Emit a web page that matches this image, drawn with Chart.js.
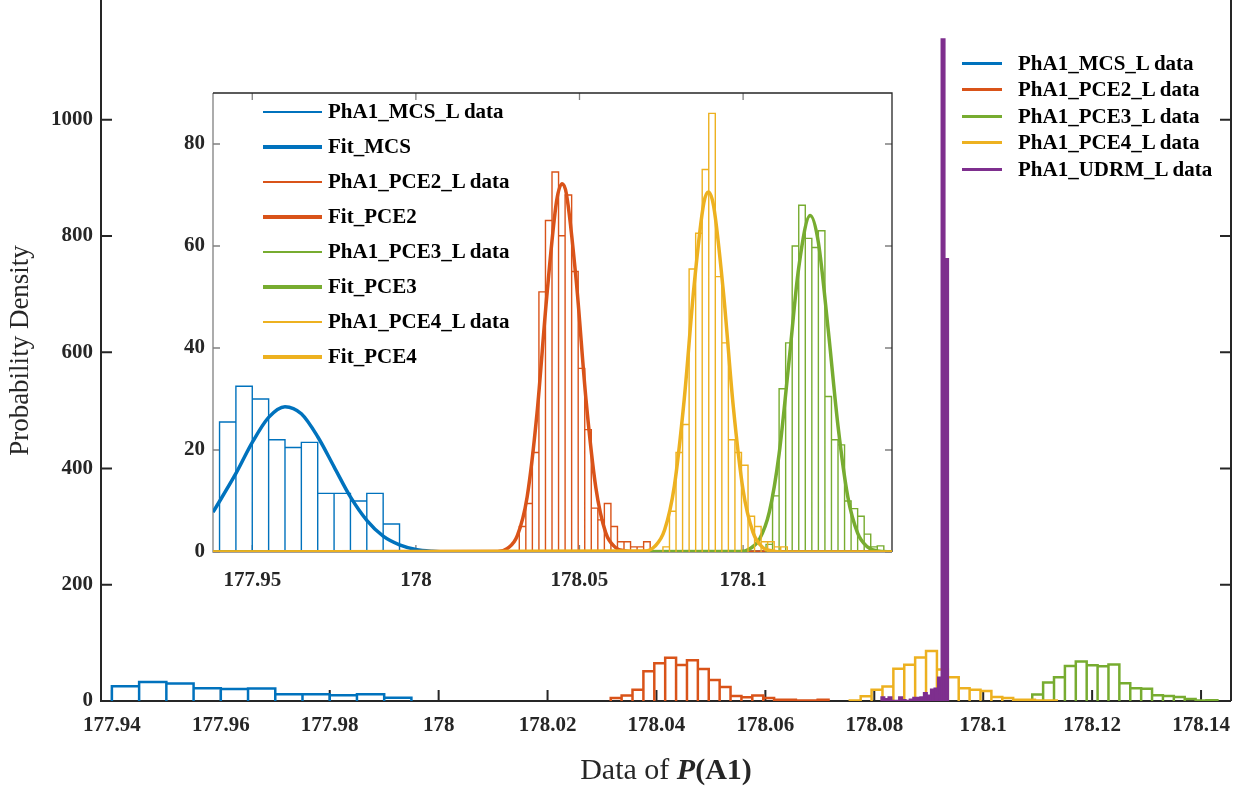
<!DOCTYPE html>
<html lang="en">
<head>
  <meta charset="UTF-8">
  <title>Probability Density of P(A1)</title>
  <script src="https://cdn.jsdelivr.net/npm/chart.js"></script>
  <style>
    body {
      margin: 0;
      background: #fff;
    }

    #wrap {
      position: relative;
      width: 1255px;
      height: 787px;
      background: #fff;
      font-family: 'Liberation Serif', serif;
    }

    #main {
      position: absolute;
      left: 0;
      top: 0;
    }

    #inset {
      position: absolute;
      left: 140px;
      top: 80px;
    }

    .row {
      position: absolute;
      display: flex;
      align-items: center;
      height: 26px;
      font-weight: bold;
      font-size: 21px;
      color: #000;
      white-space: nowrap;
    }

    .row span {
      display: inline-block;
    }

    #xtitle {
      position: absolute;
      left: 366px;
      width: 600px;
      top: 752px;
      text-align: center;
      font-size: 30px;
      color: #262626;
    }
  </style>
</head>

<body>
  <div id="wrap">
    <canvas id="main" width="1255" height="787"></canvas>
    <canvas id="inset" width="770" height="530"></canvas>
    <div id="xtitle">Data of <b><i>P</i>(A1)</b></div>
  </div>
  <script>
    // ticks
    const mainXTicks = [177.94, 177.96, 177.98, 178, 178.02, 178.04, 178.06, 178.08, 178.1, 178.12, 178.14];
    const mainYTicks = [0, 200, 400, 600, 800, 1000];
    const insetXTicks = [177.95, 178, 178.05, 178.1];
    const insetYTicks = [0, 20, 40, 60, 80];

    // histograms: first bin edge, bin width, bar heights (pdf)
    const mcsEdge = 177.94, mcsBin = 0.005;
    const mcsHist = [25.5, 32.5, 30, 22, 20.5, 21.5, 11.5, 11.5, 10, 11.5, 5.5];
    const pce2Edge = 178.0316, pce2Bin = 0.002;
    const pce2Hist = [5, 9.5, 19.5, 51, 65, 74.5, 62, 70, 55, 36, 24, 8.6, 6.3, 9.5, 5, 2, 2, 1, 1, 2];
    const pce3Edge = 178.107, pce3Bin = 0.002;
    const pce3Hist = [1.5, 11, 32, 41, 60, 68, 61.5, 59.7, 63, 30.5, 22, 21, 10, 8.5, 7, 3.5, 1, 1.2];
    const pce4Edge = 178.0755, pce4Bin = 0.002;
    const pce4Hist = [1, 8, 19.5, 25, 55.5, 62.5, 75, 86, 54, 41, 22, 19.5, 17, 7, 5, 2, 2, 1, 1];
    const udrmEdge = 178.08125, udrmBin = 0.00065;
    const udrmHist = [7, 4, 7, 1, 1, 7, 2, 1, 3, 6, 6, 7, 14, 10, 20, 22, 41, 1139, 761];

    // fitted curves (inset)
    const fitMcsX = [177.938, 177.945, 177.95, 177.955, 177.96, 177.965, 177.97, 177.975, 177.98, 177.985, 177.99, 177.995, 178.0, 178.005, 178.01, 178.1455];
    const fitMcsY = [7.8, 15.4, 21.5, 26.4, 28.5, 27.1, 22.6, 16.7, 10.8, 6.2, 3.1, 1.4, 0.5, 0.15, 0.04, 0];
    const fitPce2X = [177.938, 178.025, 178.028, 178.031, 178.034, 178.037, 178.040, 178.043, 178.0447, 178.046, 178.049, 178.052, 178.055, 178.058, 178.061, 178.064, 178.067, 178.1455];
    const fitPce2Y = [0, 0.1, 0.7, 3.2, 10.8, 27.1, 50.1, 68.8, 72.2, 70.2, 53.2, 29.8, 12.6, 3.8, 0.9, 0.2, 0, 0];
    const fitPce3X = [177.938, 178.099, 178.102, 178.105, 178.108, 178.111, 178.114, 178.117, 178.1205, 178.123, 178.126, 178.129, 178.132, 178.135, 178.138, 178.141, 178.1455];
    const fitPce3Y = [0, 0.1, 0.6, 2.5, 7.8, 19.2, 37.2, 55.8, 66, 60.7, 43.6, 24.7, 10.8, 3.7, 1.0, 0.2, 0];
    const fitPce4X = [177.938, 178.070, 178.073, 178.076, 178.079, 178.082, 178.085, 178.088, 178.0894, 178.091, 178.094, 178.097, 178.100, 178.103, 178.106, 178.109, 178.112, 178.1455];
    const fitPce4Y = [0, 0.2, 1.1, 4.3, 13, 29.9, 52.1, 68.5, 70.6, 67.8, 50.8, 28.5, 12.1, 3.9, 0.9, 0.2, 0, 0];

    const mainNames = ['PhA1_MCS_L data', 'PhA1_PCE2_L data', 'PhA1_PCE3_L data', 'PhA1_PCE4_L data', 'PhA1_UDRM_L data'];
    const insetNames = ['PhA1_MCS_L data', 'Fit_MCS', 'PhA1_PCE2_L data', 'Fit_PCE2', 'PhA1_PCE3_L data', 'Fit_PCE3', 'PhA1_PCE4_L data', 'Fit_PCE4'];

    const blue = '#0072BD', red = '#D95319', yellow = '#EDB120', green = '#77AC30', purple = '#7E2F8E';
    const tickFont = { family: 'Liberation Serif', size: 21, weight: 'bold' };

    // bar outline of a histogram, every bin closed down to zero
    function outline(edge, bin, heights) {
      const pts = [{ x: edge, y: 0 }];
      heights.forEach((h, i) => {
        const l = edge + i * bin, r = l + bin;
        pts.push({ x: l, y: h }, { x: r, y: h }, { x: r, y: 0 });
      });
      return pts;
    }

    function curve(xs, ys) {
      return xs.map((x, i) => ({ x: x, y: ys[i] }));
    }

    // axes box with inward ticks (matlab style)
    const boxPlugin = {
      id: 'box',
      beforeDatasetsDraw(chart, args, o) {
        const { ctx, chartArea: a, scales: { x, y } } = chart;
        ctx.save();
        if (o.fill) {
          ctx.fillStyle = o.fill;
          ctx.fillRect(a.left, a.top, a.width, a.height);
        }
        ctx.lineWidth = o.width;
        ctx.strokeStyle = o.tickColor;
        ctx.beginPath();
        x.ticks.forEach(t => {
          const p = x.getPixelForValue(t.value);
          ctx.moveTo(p, a.bottom);
          ctx.lineTo(p, a.bottom - o.len);
          if (o.top) {
            ctx.moveTo(p, a.top);
            ctx.lineTo(p, a.top + o.len);
          }
        });
        y.ticks.forEach(t => {
          const p = y.getPixelForValue(t.value);
          ctx.moveTo(a.left, p);
          ctx.lineTo(a.left + o.len, p);
          ctx.moveTo(a.right, p);
          ctx.lineTo(a.right - o.len, p);
        });
        ctx.stroke();
        ctx.strokeStyle = o.axisColor;
        ctx.beginPath();
        ctx.moveTo(a.left, a.top);
        ctx.lineTo(a.left, a.bottom);
        ctx.lineTo(a.right, a.bottom);
        ctx.stroke();
        ctx.strokeStyle = o.boxColor;
        ctx.beginPath();
        ctx.moveTo(a.right, a.bottom);
        ctx.lineTo(a.right, a.top);
        if (o.top) ctx.lineTo(a.left, a.top);
        ctx.stroke();
        ctx.restore();
      }
    };

    function axes(xmin, xmax, ymin, ymax, xt, yt, xh, yw, xpad, ypad) {
      return {
        x: {
          type: 'linear', min: xmin, max: xmax,
          afterBuildTicks: s => { s.ticks = xt.map(v => ({ value: v })); },
          afterFit: s => { s.height = xh; },
          grid: { display: false, drawTicks: false },
          border: { display: false },
          ticks: {
            padding: xpad, maxRotation: 0, autoSkip: false, font: tickFont, color: '#262626',
            callback: v => String(+v.toFixed(2))
          }
        },
        y: {
          min: ymin, max: ymax,
          afterBuildTicks: s => { s.ticks = yt.map(v => ({ value: v })); },
          afterFit: s => { s.width = yw; s.paddingTop = 0; },
          grid: { display: false, drawTicks: false },
          border: { display: false },
          ticks: { padding: ypad, font: tickFont, color: '#262626', callback: v => String(v) }
        }
      };
    }

    // main plot
    const mainSets = [
      { data: outline(mcsEdge, mcsBin, mcsHist), borderColor: blue },
      { data: outline(pce2Edge, pce2Bin, pce2Hist), borderColor: red },
      { data: outline(pce3Edge, pce3Bin, pce3Hist), borderColor: green },
      { data: outline(pce4Edge, pce4Bin, pce4Hist), borderColor: yellow },
      { data: outline(udrmEdge, udrmBin, udrmHist), borderColor: purple, backgroundColor: purple, fill: 'origin', borderWidth: 1.5 }
    ].map((d, i, arr) => ({
      label: mainNames[i], borderWidth: 2.5, pointRadius: 0, tension: 0, fill: false, order: arr.length - i, ...d
    }));

    const mainScales = axes(177.938, 178.1455, 0, 1206, mainXTicks, mainYTicks, 86, 101, 12, 8);
    mainScales.y.title = {
      display: true, text: 'Probability Density', color: '#262626',
      font: { family: 'Liberation Serif', size: 27 }, padding: { top: 5, bottom: 0 }
    };

    new Chart(document.getElementById('main'), {
      type: 'line',
      data: { datasets: mainSets },
      options: {
        responsive: false, animation: false, events: [],
        layout: { padding: { left: 0, right: 24, top: 0, bottom: 0 } },
        plugins: {
          legend: { display: false }, tooltip: { enabled: false },
          box: { len: 11, width: 2, tickColor: '#262626', axisColor: '#262626', boxColor: '#262626', top: false }
        },
        scales: mainScales
      },
      plugins: [boxPlugin]
    });

    // inset plot
    const hist = [
      [mcsEdge, mcsBin, mcsHist, fitMcsX, fitMcsY, blue],
      [pce2Edge, pce2Bin, pce2Hist, fitPce2X, fitPce2Y, red],
      [pce3Edge, pce3Bin, pce3Hist, fitPce3X, fitPce3Y, green],
      [pce4Edge, pce4Bin, pce4Hist, fitPce4X, fitPce4Y, yellow]
    ];
    const insetSets = [];
    hist.forEach(h => {
      insetSets.push({ data: outline(h[0], h[1], h[2]), borderColor: h[5], borderWidth: 1.4, tension: 0 });
      insetSets.push({ data: curve(h[3], h[4]), borderColor: h[5], borderWidth: 3.5, cubicInterpolationMode: 'monotone' });
    });
    insetSets.forEach((d, i) => {
      d.label = insetNames[i];
      d.pointRadius = 0;
      d.fill = false;
      d.order = insetSets.length - i;
    });

    new Chart(document.getElementById('inset'), {
      type: 'line',
      data: { datasets: insetSets },
      options: {
        responsive: false, animation: false, events: [],
        layout: { padding: { left: 0, right: 18, top: 13, bottom: 0 } },
        plugins: {
          legend: { display: false }, tooltip: { enabled: false },
          box: { len: 7, width: 1.3, fill: '#fff', tickColor: '#808080', axisColor: '#808080', boxColor: '#262626', top: true }
        },
        scales: axes(177.938, 178.1455, 0, 90, insetXTicks, insetYTicks, 58, 73, 16, 8)
      },
      plugins: [boxPlugin]
    });

    // legends
    const wrap = document.getElementById('wrap');
    function legendRow(x, y, lineW, lineH, gap, color, text) {
      const row = document.createElement('div');
      row.className = 'row';
      row.style.left = x + 'px';
      row.style.top = (y - 13) + 'px';
      const ln = document.createElement('span');
      ln.style.width = lineW + 'px';
      ln.style.height = lineH + 'px';
      ln.style.background = color;
      ln.style.marginRight = gap + 'px';
      const tx = document.createElement('span');
      tx.textContent = text;
      row.appendChild(ln);
      row.appendChild(tx);
      wrap.appendChild(row);
    }
    mainSets.forEach((d, i) => legendRow(962, 63 + 26.6 * i, 40, 3, 16, d.borderColor, mainNames[i]));
    insetSets.forEach((d, i) => legendRow(263, 111.7 + 35 * i, 59, i % 2 ? 4 : 2, 6, d.borderColor, insetNames[i]));
  </script>
</body>

</html>
